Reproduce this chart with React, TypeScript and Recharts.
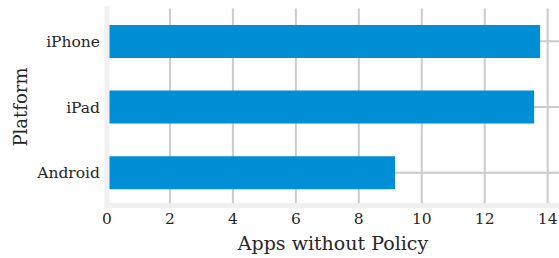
import { Bar, BarChart, CartesianGrid, XAxis, YAxis } from "recharts";

const platforms = ["iPhone", "iPad", "Android"];
const appsWithoutPolicy = [13.76, 13.57, 9.15];
const xTicks = [0, 2, 4, 6, 8, 10, 12, 14];

const data = platforms.map((p, i) => ({ platform: p, value: appsWithoutPolicy[i] }));

const FONT = "'DejaVu Serif', serif";
const TEXT = "#262626";
const frame = { stroke: "#f0f0f0", strokeWidth: 5, strokeLinecap: "square" as const };

export default function App() {
  return (
    <div style={{ position: "absolute", left: 0, top: 0, width: 559, height: 258, background: "white" }}>
      <BarChart
        width={559}
        height={258}
        data={data}
        layout="vertical"
        barCategoryGap="25%"
        margin={{ top: 8.5, right: 0, bottom: 0, left: 0 }}
      >
        <CartesianGrid
          stroke="#cbcbcb"
          strokeWidth={2}
          verticalValues={xTicks}
          horizontalValues={platforms}
        />
        <Bar dataKey="value" fill="#008fd5" isAnimationActive={false} />
        <XAxis
          type="number"
          domain={[0, 14.36]}
          ticks={xTicks}
          allowDataOverflow
          height={52.5}
          tickSize={0}
          tickMargin={7}
          axisLine={frame}
          tickLine={false}
          tick={{ fill: TEXT, fontFamily: FONT, fontSize: 15.5 }}
          label={{
            value: "Apps without Policy",
            position: "insideBottom",
            offset: 8,
            style: { fill: TEXT, fontFamily: FONT, fontSize: 19 },
          }}
        />
        <XAxis
          xAxisId="top"
          orientation="top"
          type="number"
          domain={[0, 14.36]}
          ticks={xTicks}
          allowDataOverflow
          height={0}
          tick={false}
          tickLine={false}
          axisLine={frame}
        />
        <YAxis
          type="category"
          dataKey="platform"
          width={107}
          tickSize={0}
          tickMargin={7}
          axisLine={frame}
          tickLine={false}
          tick={{ fill: TEXT, fontFamily: FONT, fontSize: 15.5 }}
          label={{
            value: "Platform",
            angle: -90,
            position: "insideLeft",
            offset: 21,
            style: { fill: TEXT, fontFamily: FONT, fontSize: 18, textAnchor: "middle" },
          }}
        />
      </BarChart>
    </div>
  );
}
